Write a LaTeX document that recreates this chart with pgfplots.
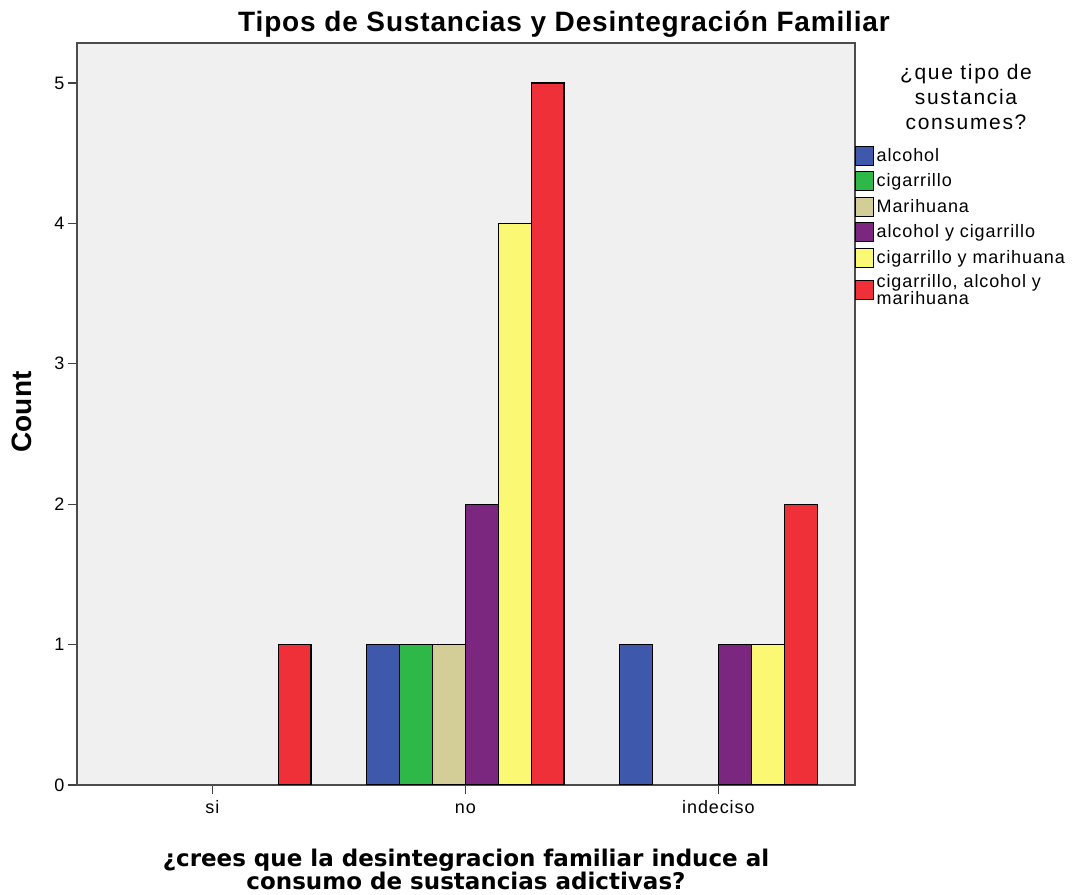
\documentclass[border=0pt]{standalone}
\usepackage{fontspec}
\setmainfont{Liberation Sans}
\newfontfamily\spfont[LetterSpace=5]{Liberation Sans}
\newfontfamily\ttlfont[LetterSpace=3]{Liberation Sans}
\newfontfamily\lgtfont[LetterSpace=8]{Liberation Sans}
\newfontfamily\dvfont{DejaVu Sans}
\usepackage{pgfplots}
\pgfplotsset{compat=1.18}
\definecolor{cA}{HTML}{3E58AC}
\definecolor{cB}{HTML}{2EB848}
\definecolor{cC}{HTML}{D3CE97}
\definecolor{cD}{HTML}{7B277F}
\definecolor{cE}{HTML}{FBF873}
\definecolor{cF}{HTML}{EF3038}
\definecolor{bg}{HTML}{F0F0F0}
\begin{document}
\begin{tikzpicture}[x=1pt,y=1pt]
\path[use as bounding box] (0pt,0pt) rectangle (1076pt,894pt);
\begin{axis}[
  at={(77pt,109pt)}, anchor=south west,
  scale only axis, width=778pt, height=742pt,
  xmin=-0.535, xmax=2.54, ymin=0, ymax=5.285,
  xtick={0,1,2}, xticklabels={si,no,indeciso},
  ytick={0,1,2,3,4,5},
  xtick pos=bottom, ytick pos=left,
  tick align=outside,
  major tick length=9pt,
  tick style={draw=black!75, line width=1.2pt},
  axis line style={draw=black!70, line width=1.6pt},
  axis background/.style={fill=bg},
  /pgf/number format/assume math mode=true,
  ticklabel style={font=\spfont\fontsize{18}{20}\selectfont},
  xticklabel style={yshift=-3pt, text height=13pt, text depth=3pt},
  ybar=0pt, bar width=0.13,
  every axis plot/.append style={draw=black, line width=1.1pt},
  legend style={at={(1.0,0.862)}, anchor=north west, draw=none, fill=none,
    font=\spfont\fontsize{18}{17}\selectfont, row sep=5.5pt, inner sep=0pt,
    nodes={inner ysep=1pt, inner xsep=2.5pt, align=left}},
  legend cell align=left,
  legend image code/.code={\draw[#1, line width=1pt] (0pt,-9.5pt) rectangle (18pt,9.5pt);},
]
\addplot[fill=cA, bar shift=-0.325] coordinates {(1,1) (2,1)};
\addplot[fill=cB, bar shift=-0.195] coordinates {(1,1)};
\addplot[fill=cC, bar shift=-0.065] coordinates {(1,1)};
\addplot[fill=cD, bar shift=0.065] coordinates {(1,2) (2,1)};
\addplot[fill=cE, bar shift=0.195] coordinates {(1,4) (2,1)};
\addplot[fill=cF, bar shift=0.325] coordinates {(0,1) (1,5) (2,2)};
\legend{alcohol,cigarrillo,Marihuana,alcohol y cigarrillo,cigarrillo y marihuana,{cigarrillo, alcohol y\\marihuana}}
\end{axis}
\node[font=\ttlfont\bfseries\fontsize{28}{30}\selectfont] at (564pt,870pt) {Tipos de Sustancias y Desintegración Familiar};
\node[font=\bfseries\fontsize{28}{30}\selectfont, rotate=90] at (22pt,482pt) {Count};
\node[font=\dvfont\bfseries\fontsize{23}{23}\selectfont, align=center] at (466pt,25pt) {¿crees que la desintegracion familiar induce al\\consumo de sustancias adictivas?};
\node[font=\lgtfont\fontsize{21}{25}\selectfont, align=center] at (966pt,797pt) {¿que tipo de\\sustancia\\consumes?};
\end{tikzpicture}
\end{document}
